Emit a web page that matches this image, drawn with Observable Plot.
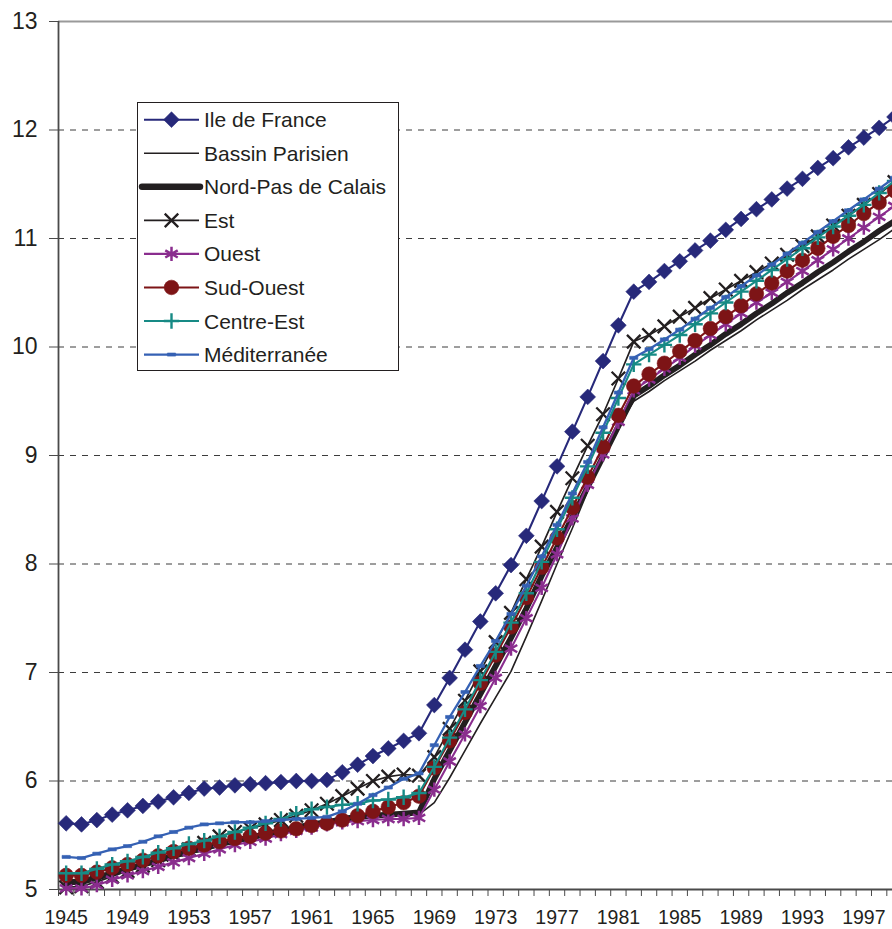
<!DOCTYPE html>
<html>
<head>
<meta charset="utf-8">
<script src="https://cdn.jsdelivr.net/npm/d3@7"></script>
<script src="https://cdn.jsdelivr.net/npm/@observablehq/plot@0.6"></script>
<style>
  html, body { margin: 0; padding: 0; background: #fff; overflow: hidden; }
  #wrap { position: relative; width: 892px; height: 929px; overflow: hidden;
          font-family: "Liberation Sans", Arial, Helvetica, sans-serif; }
  #wrap > svg { display: block; }
  #legend { position: absolute; left: 137px; top: 102px; }
</style>
</head>
<body>
<div id="wrap"></div>
<script>
// Years 1945–1999 (one value per year for every region)
const years = d3.range(1945, 2000);
const labelYears = d3.range(1945, 1999, 4);
const yTicks = [5, 6, 7, 8, 9, 10, 11, 12, 13];
const gridLevels = [6, 7, 8, 9, 10, 11, 12];

const regionNames = ["Ile de France", "Bassin Parisien", "Nord-Pas de Calais", "Est",
                     "Ouest", "Sud-Ouest", "Centre-Est", "Méditerranée"];

const ileDeFrance = [5.61,5.60,5.64,5.69,5.73,5.77,5.81,5.85,5.89,5.93,
  5.94,5.96,5.97,5.98,5.99,6.00,6.00,6.01,6.08,6.15,
  6.23,6.30,6.37,6.44,6.70,6.95,7.21,7.47,7.73,7.99,
  8.26,8.58,8.90,9.22,9.54,9.87,10.20,10.51,10.60,10.70,
  10.79,10.89,10.98,11.08,11.18,11.27,11.36,11.46,11.55,11.65,
  11.74,11.84,11.93,12.02,12.12];

const bassinParisien = [5.05,5.05,5.09,5.13,5.17,5.21,5.25,5.29,5.33,5.36,
  5.40,5.43,5.46,5.49,5.52,5.55,5.58,5.60,5.63,5.65,
  5.66,5.67,5.68,5.69,5.80,6.03,6.28,6.53,6.77,7.01,
  7.33,7.66,8.00,8.33,8.67,9.00,9.27,9.50,9.59,9.69,
  9.78,9.87,9.97,10.06,10.15,10.25,10.34,10.43,10.53,10.62,
  10.71,10.81,10.90,10.99,11.09];

const nordPasDeCalais = [5.07,5.07,5.11,5.15,5.19,5.23,5.27,5.31,5.35,5.38,
  5.42,5.45,5.48,5.51,5.54,5.57,5.60,5.62,5.65,5.67,
  5.68,5.69,5.70,5.71,6.02,6.28,6.54,6.80,7.06,7.32,
  7.59,7.89,8.15,8.43,8.71,8.99,9.27,9.55,9.64,9.74,
  9.83,9.93,10.02,10.12,10.21,10.31,10.40,10.50,10.59,10.69,
  10.78,10.88,10.97,11.07,11.16];

const est = [5.02,5.03,5.07,5.12,5.17,5.22,5.27,5.32,5.37,5.43,
  5.49,5.53,5.56,5.60,5.64,5.68,5.73,5.79,5.86,5.93,
  6.00,6.04,6.06,6.05,6.22,6.48,6.74,7.01,7.28,7.55,
  7.86,8.16,8.48,8.79,9.09,9.38,9.71,10.05,10.11,10.19,
  10.28,10.36,10.45,10.53,10.61,10.69,10.77,10.85,10.93,11.02,
  11.12,11.21,11.31,11.41,11.52];

const ouest = [5.01,5.01,5.04,5.09,5.13,5.17,5.21,5.25,5.29,5.33,
  5.37,5.41,5.44,5.47,5.51,5.54,5.57,5.60,5.62,5.63,
  5.64,5.65,5.65,5.66,5.92,6.18,6.43,6.69,6.95,7.22,
  7.50,7.78,8.09,8.42,8.73,9.01,9.31,9.60,9.70,9.80,
  9.90,10.01,10.11,10.21,10.31,10.41,10.50,10.60,10.70,10.80,
  10.90,11.00,11.10,11.20,11.30];

const sudOuest = [5.13,5.13,5.16,5.20,5.23,5.27,5.31,5.35,5.38,5.41,
  5.44,5.47,5.49,5.52,5.54,5.56,5.59,5.61,5.64,5.68,
  5.72,5.76,5.80,5.86,6.12,6.37,6.63,6.90,7.16,7.42,
  7.69,7.97,8.24,8.52,8.80,9.08,9.37,9.64,9.75,9.85,
  9.96,10.06,10.17,10.28,10.38,10.49,10.59,10.70,10.80,10.91,
  11.02,11.12,11.23,11.33,11.44];

const centreEst = [5.15,5.15,5.19,5.23,5.26,5.30,5.34,5.38,5.42,5.45,
  5.49,5.53,5.57,5.61,5.65,5.70,5.74,5.76,5.78,5.79,
  5.82,5.83,5.85,5.89,6.13,6.40,6.66,6.93,7.19,7.46,
  7.73,8.02,8.32,8.61,8.90,9.21,9.53,9.84,9.93,10.02,
  10.11,10.21,10.31,10.41,10.51,10.61,10.71,10.81,10.91,11.01,
  11.11,11.21,11.31,11.42,11.53];

const mediterranee = [5.30,5.29,5.33,5.37,5.40,5.44,5.49,5.53,5.57,5.60,
  5.61,5.62,5.62,5.63,5.64,5.65,5.66,5.67,5.72,5.79,
  5.87,5.94,6.02,6.07,6.33,6.59,6.82,7.06,7.29,7.54,
  7.80,8.07,8.36,8.65,8.94,9.26,9.58,9.90,9.98,10.07,
  10.16,10.26,10.36,10.46,10.56,10.66,10.76,10.86,10.96,11.06,
  11.16,11.26,11.36,11.46,11.56];

// Short horizontal bar marker
const dashSymbol = {
  draw(context, size) {
    const s = Math.sqrt(size);
    context.rect(-s * 0.8, -s * 0.3, s * 1.6, s * 0.6);
  }
};

const symbolTypes = {
  diamond2: d3.symbolDiamond2, circle: d3.symbolCircle, times: d3.symbolTimes,
  asterisk: d3.symbolAsterisk, plus: d3.symbolPlus, dash: dashSymbol
};

const seriesValues = [ileDeFrance, bassinParisien, nordPasDeCalais, est,
                      ouest, sudOuest, centreEst, mediterranee];
const seriesColors = ["#27297a", "#231f20", "#231f20", "#231f20",
                      "#8a2d8e", "#7d1416", "#178a85", "#3561b4"];
const seriesLineWidths = [2.1, 1.6, 5.8, 1.7, 2.1, 2.1, 2.1, 2.3];
const seriesSymbols = ["diamond2", null, null, "times", "asterisk", "circle", "plus", "dash"];
const seriesRadii = [7.1, 0, 0, 6.2, 6.8, 7.3, 5.0, 2.9];
const seriesMarkerStroke = [0.6, 0, 0, 2.3, 2.5, 0.6, 2.4, 0.6];
const seriesFilled = [true, false, false, false, false, true, false, true];

const series = regionNames.map((name, k) => ({
  name,
  color: seriesColors[k],
  lineWidth: seriesLineWidths[k],
  symbol: seriesSymbols[k],
  r: seriesRadii[k],
  markerStroke: seriesMarkerStroke[k],
  filled: seriesFilled[k],
  data: years.map((year, i) => ({year, value: seriesValues[k][i]}))
}));

const yearEdges = d3.range(1944.5, 1999, 1);
const axisColor = "#4a4a4a";

const seriesMarks = series.flatMap(s => {
  const m = [Plot.line(s.data, {x: "year", y: "value", stroke: s.color, strokeWidth: s.lineWidth})];
  if (s.symbol) {
    const sym = s.symbol === "dash" ? dashSymbol : s.symbol;
    m.push(Plot.dot(s.data, {
      x: "year", y: "value", symbol: sym, r: s.r,
      fill: s.filled ? s.color : "none", stroke: s.color, strokeWidth: s.markerStroke
    }));
  }
  return m;
});

const chart = Plot.plot({
  width: 892,
  height: 929,
  marginLeft: 58,
  marginRight: 0,
  marginTop: 21,
  marginBottom: 40,
  style: {fontFamily: "Liberation Sans, Arial, Helvetica, sans-serif", color: "#231f20", background: "white", overflow: "hidden"},
  x: {domain: [1944.5, 1998.87]},
  y: {domain: [5, 13]},
  marks: [
    Plot.ruleY(gridLevels, {stroke: "#3c3c3c", strokeWidth: 1, strokeDasharray: "6,6"}),
    Plot.ruleY([13], {stroke: "#9a9a9a", strokeWidth: 2}),
    Plot.ruleX([1944.5], {stroke: axisColor, strokeWidth: 1.8}),
    Plot.ruleY([5], {stroke: axisColor, strokeWidth: 1.8}),
    Plot.axisY({ticks: yTicks, tickSize: 9, tickPadding: 12, fontSize: 23, label: null,
                stroke: axisColor, tickFormat: d => String(d)}),
    Plot.axisX({ticks: yearEdges, tickSize: 7, tickFormat: () => "", label: null, stroke: axisColor}),
    Plot.axisX({ticks: labelYears, tickSize: 0, tickPadding: 21, fontSize: 19.5, label: null,
                tickFormat: d => String(d)}),
    ...seriesMarks
  ]
});

const wrap = document.getElementById("wrap");
wrap.appendChild(chart);

// Legend box with a line + marker swatch per region
const legendW = 262, legendH = 270, rowStart = 17.7, rowStep = 33.55;
const legend = d3.select(wrap).append("div").attr("id", "legend")
  .append("svg").attr("width", legendW).attr("height", legendH)
  .style("font-family", "Liberation Sans, Arial, Helvetica, sans-serif");
legend.append("rect")
  .attr("x", 0.5).attr("y", 0.5).attr("width", legendW - 1).attr("height", legendH - 2)
  .attr("fill", "white").attr("stroke", "#231f20").attr("stroke-width", 1);

series.forEach((s, i) => {
  const cy = rowStart + i * rowStep;
  const g = legend.append("g").attr("transform", `translate(0,${cy})`);
  const thick = s.lineWidth > 5;
  g.append("line")
    .attr("x1", thick ? 5 : 7).attr("x2", thick ? 63 : 62).attr("y1", 0).attr("y2", 0)
    .attr("stroke", s.color).attr("stroke-width", thick ? 6.5 : s.lineWidth)
    .attr("stroke-linecap", thick ? "round" : "butt");
  if (s.symbol) {
    const path = d3.symbol(symbolTypes[s.symbol], Math.PI * s.r * s.r)();
    g.append("path")
      .attr("d", path)
      .attr("transform", "translate(34.5,0)")
      .attr("fill", s.filled ? s.color : "none")
      .attr("stroke", s.color)
      .attr("stroke-width", s.markerStroke);
  }
  g.append("text")
    .attr("x", 67).attr("y", 7.5)
    .attr("font-size", 21)
    .attr("fill", "#231f20")
    .text(s.name);
});
</script>
</body>
</html>
